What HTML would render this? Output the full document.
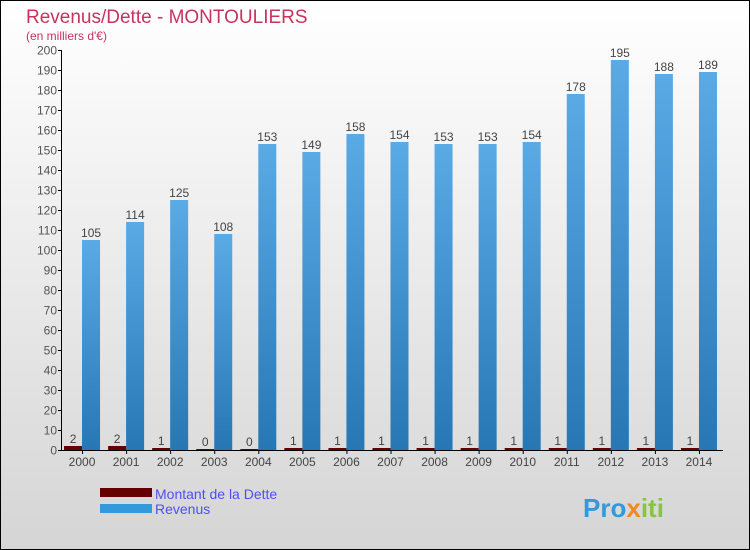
<!DOCTYPE html>
<html><head><meta charset="utf-8"><style>
body{margin:0;}
#wrap{width:750px;height:550px;position:relative;overflow:hidden;font-family:"Liberation Sans",sans-serif;}
svg text{font-family:"Liberation Sans",sans-serif;}
</style></head><body>
<div id="wrap">
<svg id="c" width="750" height="550" xmlns="http://www.w3.org/2000/svg">
<defs>
<linearGradient id="bg" x1="0" y1="0" x2="0" y2="1"><stop offset="0" stop-color="#ffffff"/><stop offset="1" stop-color="#d5d5d5"/></linearGradient>
<linearGradient id="blue" x1="0" y1="0" x2="0" y2="1"><stop offset="0" stop-color="#5aaae6"/><stop offset="1" stop-color="#2677b4"/></linearGradient>
</defs>
<rect x="0.5" y="0.5" width="749" height="549" fill="url(#bg)" stroke="#000"/>
<text x="26" y="23" font-size="19" fill="#c8335e">Revenus/Dette - MONTOULIERS</text>
<text x="26" y="40" font-size="12" fill="#c8335e">(en milliers d'€)</text>
<g id="axes"></g>
<g id="bars"></g>
<rect x="100" y="488" width="52" height="9" fill="#660000"/>
<text x="155" y="499" font-size="14" fill="#4f4ff0">Montant de la Dette</text>
<rect x="100" y="504" width="52" height="9" fill="#3399dd"/>
<text x="155" y="514" font-size="14" fill="#4f4ff0">Revenus</text>
<text x="583" y="517" font-size="26" font-weight="bold" fill="#3399dd">Pro<tspan fill="#f08a1e">x</tspan><tspan fill="#88c53f">iti</tspan></text>
</svg>
</div>
<script>
const years=["2000","2001","2002","2003","2004","2005","2006","2007","2008","2009","2010","2011","2012","2013","2014"];
const dette=[2,2,1,0,0,1,1,1,1,1,1,1,1,1,1];
const revenus=[105,114,125,108,153,149,158,154,153,153,154,178,195,188,189];
const yTicks=[0,10,20,30,40,50,60,70,80,90,100,110,120,130,140,150,160,170,180,190,200];
const NS="http://www.w3.org/2000/svg";
const x0=62,x1=723,yTop=50,yBot=450,yMax=200;
const step=(x1-x0)/years.length;
function y(v){return yBot-(v/yMax)*(yBot-yTop);}
function cx(i){return x0+step*(i+0.5)-2;}
function mk(tag,attrs,parent){const e=document.createElementNS(NS,tag);for(const k in attrs)e.setAttribute(k,attrs[k]);parent.appendChild(e);return e;}
const axes=document.getElementById('axes'),bars=document.getElementById('bars');
let l=mk('line',{x1:x0-0.5,y1:yTop,x2:x0-0.5,y2:yBot+0.5,stroke:'#000'},axes);


l=mk('line',{x1:x0-0.5,y1:yBot+0.5,x2:x1,y2:yBot+0.5,stroke:'#000'},axes);


yTicks.forEach(v=>{
  const t=mk('line',{x1:x0-4,y1:y(v)+0.5,x2:x0-0.5,y2:y(v)+0.5,stroke:'#000'},axes);
  
  
  const tx=mk('text',{x:x0-5,y:y(v)+4.5,'font-size':12,fill:'#555','text-anchor':'end'},axes);
  tx.textContent=v;
  
  
});
years.forEach((yr,i)=>{
  const c=cx(i);
  const t=mk('line',{x1:c+0.5,y1:yBot,x2:c+0.5,y2:yBot+4,stroke:'#000'},axes);
  
  
  const tx=mk('text',{x:c,y:yBot+16,'font-size':12,fill:'#444','text-anchor':'middle'},axes);
  tx.textContent=yr;
  
  
  const dh=Math.max(yBot-y(dette[i]),1);
  const d=mk('rect',{x:c-18,y:yBot-dh,width:18,height:dh,fill:'#660000'},bars);
  
  
  const dl=mk('text',{x:c-9,y:yBot-dh-3,'font-size':12,fill:'#444','text-anchor':'middle'},bars);
  dl.textContent=dette[i];
  
  
  const r=mk('rect',{x:c,y:y(revenus[i]),width:18,height:yBot-y(revenus[i]),fill:'url(#blue)'},bars);
  
  
  const rl=mk('text',{x:c+9,y:y(revenus[i])-3,'font-size':12,fill:'#444','text-anchor':'middle'},bars);
  rl.textContent=revenus[i];
  
  
});
</script>
</body></html>
